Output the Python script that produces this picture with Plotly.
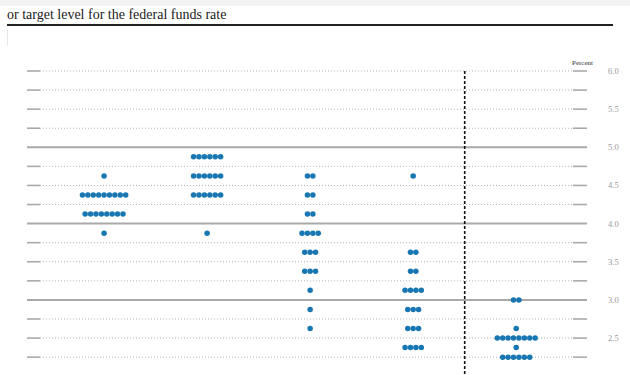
import plotly.graph_objects as go

# ---- data ----
columns = ["2022", "2023", "2024", "2025", "Longer run"]
col_levels = [
    [4.625, 4.375, 4.125, 3.875],
    [4.875, 4.625, 4.375, 3.875],
    [4.625, 4.375, 4.125, 3.875, 3.625, 3.375, 3.125, 2.875, 2.625],
    [4.625, 3.625, 3.375, 3.125, 2.875, 2.625, 2.375],
    [3.0, 2.625, 2.5, 2.375, 2.25],
]
col_counts = [
    [1, 9, 8, 1],
    [6, 6, 6, 1],
    [2, 2, 2, 4, 3, 3, 1, 1, 1],
    [1, 2, 2, 4, 3, 3, 4],
    [2, 1, 8, 1, 6],
]
grid_levels = [2.0, 2.25, 2.5, 2.75, 3.0, 3.25, 3.5, 3.75, 4.0, 4.25, 4.5, 4.75, 5.0, 5.25, 5.5, 5.75, 6.0]
major_levels = [3.0, 4.0, 5.0]
tick_labels = ["2.0", "2.5", "3.0", "3.5", "4.0", "4.5", "5.0", "5.5", "6.0"]
tick_values = [2.0, 2.5, 3.0, 3.5, 4.0, 4.5, 5.0, 5.5, 6.0]
title_text = "or target level for the federal funds rate"

DOT_STEP = 0.0525  # horizontal spacing of dots (x units)
W, H = 630, 375
L, R, T, B = 27, 43, 60, 0
plot_w = W - L - R
plot_h = H - T - B

xs, ys = [], []
for ci, (levels, counts) in enumerate(zip(col_levels, col_counts)):
    for lv, n in zip(levels, counts):
        for k in range(n):
            xs.append(ci + (k - (n - 1) / 2) * DOT_STEP)
            ys.append(lv)

fig = go.Figure()
fig.add_trace(go.Scatter(
    x=xs, y=ys, mode="markers",
    marker=dict(size=5.5, color="#1877b2", line=dict(width=0)),
    hoverinfo="skip", showlegend=False, cliponaxis=False,
))

x0r, x1r = -0.748, 4.687
def px_to_paper(px):
    return (px - L) / plot_w
def py_to_paper(py):
    return 1 + (T - py) / plot_h

shapes = []
for lv in grid_levels:
    if lv in major_levels:
        shapes.append(dict(type="line", xref="paper", yref="y",
                           x0=0, x1=1, y0=lv, y1=lv,
                           line=dict(color="#a9a9a9", width=2), layer="below"))
    else:
        shapes.append(dict(type="line", xref="paper", yref="y",
                           x0=px_to_paper(40), x1=px_to_paper(573), y0=lv, y1=lv,
                           line=dict(color="#b4b4b4", width=1, dash="1px,2px"), layer="below"))
        shapes.append(dict(type="line", xref="paper", yref="y",
                           x0=0, x1=px_to_paper(40), y0=lv, y1=lv,
                           line=dict(color="#aaaaaa", width=1.6), layer="below"))
        shapes.append(dict(type="line", xref="paper", yref="y",
                           x0=px_to_paper(573), x1=1, y0=lv, y1=lv,
                           line=dict(color="#aaaaaa", width=1.6), layer="below"))

# vertical dashed separator between forecast years and longer run
shapes.append(dict(type="line", xref="x", yref="y", x0=3.5, x1=3.5, y0=6.0, y1=1.9,
                   line=dict(color="#111111", width=1.6, dash="3px,2px")))

# top light band, heading rule, faint left edge
shapes.append(dict(type="rect", xref="paper", yref="paper",
                   x0=px_to_paper(0), x1=px_to_paper(630),
                   y0=py_to_paper(6), y1=py_to_paper(0),
                   fillcolor="#f3f3f3", line=dict(width=0), layer="below"))
shapes.append(dict(type="line", xref="paper", yref="paper",
                   x0=px_to_paper(7), x1=px_to_paper(613),
                   y0=py_to_paper(25), y1=py_to_paper(25),
                   line=dict(color="#222222", width=2)))
shapes.append(dict(type="line", xref="paper", yref="paper",
                   x0=px_to_paper(7.5), x1=px_to_paper(7.5),
                   y0=py_to_paper(30), y1=py_to_paper(46),
                   line=dict(color="#e6e6e6", width=1)))

annotations = [
    dict(text=title_text, xref="paper", yref="paper",
         x=px_to_paper(5), y=py_to_paper(14),
         xanchor="left", yanchor="middle", showarrow=False,
         font=dict(family="Liberation Serif, DejaVu Serif, serif", size=14, color="#1a1a1a")),
    dict(text="Percent", xref="paper", yref="paper",
         x=px_to_paper(582), y=py_to_paper(63),
         xanchor="center", yanchor="middle", showarrow=False,
         font=dict(family="Liberation Serif, serif", size=7, color="#333333")),
]

fig.update_layout(
    width=W, height=H,
    margin=dict(l=L, r=R, t=T, b=B, pad=0),
    paper_bgcolor="white", plot_bgcolor="white",
    shapes=shapes, annotations=annotations,
    xaxis=dict(range=[x0r, x1r], showgrid=False, zeroline=False,
               showticklabels=False, showline=False, fixedrange=True),
    yaxis=dict(range=[2.016, 6.144], side="right", showgrid=False, zeroline=False,
               showline=False, tickvals=tick_values, ticktext=tick_labels,
               ticks="", ticklabelstandoff=20,
               tickfont=dict(family="Liberation Serif, serif", size=8.5, color="#999999"),
               fixedrange=True),
    showlegend=False,
)

fig.write_html(
    "out.html",
    config={"displayModeBar": False, "staticPlot": True},
    post_script="document.body.style.margin='0';document.body.style.overflow='hidden';",
)
